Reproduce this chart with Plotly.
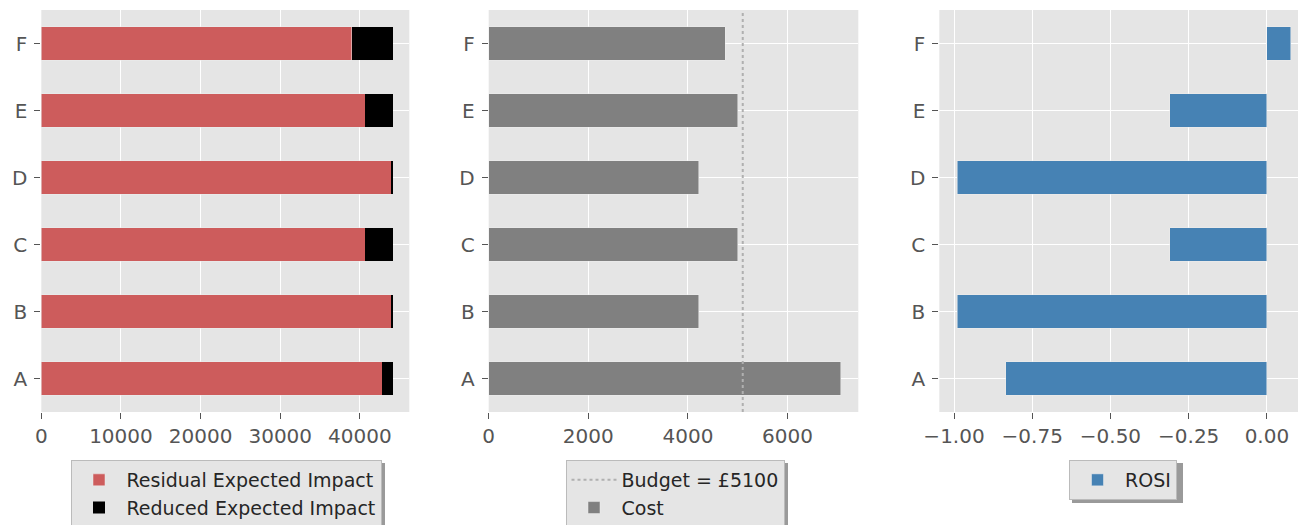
import plotly.graph_objects as go

categories = ["A", "B", "C", "D", "E", "F"]
residual_impact = [42790, 43950, 40700, 43950, 40700, 38950]
reduced_impact = [1360, 180, 3450, 180, 3450, 5200]
cost = [7070, 4220, 5000, 4220, 5000, 4745]
budget = 5100
rosi = [-0.835, -0.99, -0.31, -0.99, -0.31, 0.076]

x1_ticks = [0, 10000, 20000, 30000, 40000]
x2_ticks = [0, 2000, 4000, 6000]
x3_ticks = [-1.0, -0.75, -0.5, -0.25, 0.0]
x3_ticktext = ["\u22121.00", "\u22120.75", "\u22120.50", "\u22120.25", "0.00"]

W, H = 1298, 525
FONT = "DejaVu Sans"
TICKC = "#555555"
BG = "#E5E5E5"
EDGE = dict(color="#EEEEEE", width=0.5)

fig = go.Figure()

fig.add_trace(go.Bar(y=categories, x=residual_impact, orientation="h",
                     name="Residual Expected Impact", marker=dict(color="#CD5C5C", line=EDGE),
                     xaxis="x", yaxis="y", legend="legend"))
fig.add_trace(go.Bar(y=categories, x=reduced_impact, orientation="h",
                     name="Reduced Expected Impact", marker=dict(color="#000000", line=dict(width=0)),
                     xaxis="x", yaxis="y", legend="legend"))
fig.add_trace(go.Bar(y=categories, x=cost, orientation="h",
                     name="Cost", marker=dict(color="#808080", line=EDGE),
                     xaxis="x2", yaxis="y2", legend="legend2", legendrank=2))
fig.add_trace(go.Bar(y=categories, x=rosi, orientation="h",
                     name="ROSI", marker=dict(color="#4682B4", line=EDGE),
                     xaxis="x3", yaxis="y3", legend="legend3"))

fig.add_shape(type="line", xref="x2", yref="y2 domain", x0=budget, x1=budget, y0=0, y1=1,
              line=dict(color="#B0B0B0", width=2, dash="dot"),
              name="Budget = \u00a3%d" % budget, showlegend=True, legend="legend2", legendrank=1)

# legend drop shadows (pixel boxes, paper coordinates)
for (px0, py0, px1, py1) in [(74, 463, 385, 530), (569, 463, 788, 530), (1072, 463, 1183, 503)]:
    fig.add_shape(type="rect", xref="paper", yref="paper",
                  x0=px0 / W, x1=px1 / W, y0=1 - py1 / H, y1=1 - py0 / H,
                  line=dict(width=0), fillcolor="#9A9A9A", layer="above")

ydom = [(H - 412) / H, (H - 10) / H]
doms = [[41.3 / W, 409.3 / W], [488.7 / W, 858.3 / W], [939.3 / W, 1.0]]

common_x = dict(showgrid=True, gridcolor="white", gridwidth=1, zeroline=False, automargin=False,
                ticks="outside", ticklen=6, tickcolor=TICKC, tickwidth=1,
                tickfont=dict(family=FONT, size=20, color=TICKC), showline=False)
common_y = dict(showgrid=True, gridcolor="white", gridwidth=1, zeroline=False, automargin=False,
                ticks="outside", ticklen=6, tickcolor=TICKC, tickwidth=1, ticklabelstandoff=3,
                tickfont=dict(family=FONT, size=20, color=TICKC), showline=False,
                type="category", categoryorder="array", categoryarray=categories,
                range=[-0.5, 5.5], domain=ydom)

legend_common = dict(yanchor="top", xanchor="center", y=(H - 460) / H,
                     bgcolor=BG, bordercolor="#BBBBBB", borderwidth=1, itemwidth=45,
                     font=dict(family=FONT, size=19, color="#262626"), traceorder="normal")

fig.update_layout(
    width=W, height=H, margin=dict(l=0, r=0, t=0, b=0, autoexpand=False),
    paper_bgcolor="white", plot_bgcolor=BG,
    barmode="stack", bargap=0.5,
    font=dict(family=FONT, size=19, color="#262626"),
    xaxis=dict(domain=doms[0], range=[0, 46200], tickvals=x1_ticks, tickformat="d",
               anchor="y", **common_x),
    yaxis=dict(anchor="x", **common_y),
    xaxis2=dict(domain=doms[1], range=[0, 7420], tickvals=x2_ticks, tickformat="d",
                anchor="y2", **common_x),
    yaxis2=dict(anchor="x2", **common_y),
    xaxis3=dict(domain=doms[2], range=[-1.047, 0.0994], tickvals=x3_ticks, ticktext=x3_ticktext,
                anchor="y3", **common_x),
    yaxis3=dict(anchor="x3", **common_y),
    legend=dict(x=226 / W, **legend_common),
    legend2=dict(x=675 / W, **legend_common),
    legend3=dict(x=1123 / W, **legend_common),
    showlegend=True,
)

fig.write_html("out.html")
